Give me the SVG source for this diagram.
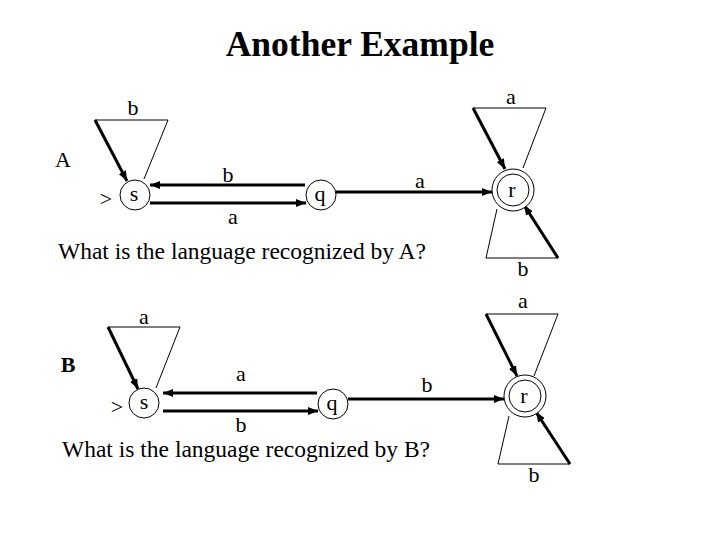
<svg xmlns="http://www.w3.org/2000/svg" width="720" height="540" viewBox="0 0 720 540">
<defs>
<marker id="ah" markerUnits="userSpaceOnUse" markerWidth="10" markerHeight="8" refX="10" refY="4" orient="auto">
<path d="M0,0 L10,4 L0,8 z" fill="#000"/>
</marker>
<style>
.t{font-family:"Liberation Serif","Times New Roman",serif;fill:#000}
.lb{font-size:22px;text-anchor:middle}
.st{font-size:22px;text-anchor:middle}
.c{fill:#fff;stroke:#000;stroke-width:1}
.thin{fill:none;stroke:#000;stroke-width:1}
.thick{fill:none;stroke:#000;stroke-width:3;marker-end:url(#ah)}
</style>
</defs>
<rect width="720" height="540" fill="#fff"/>
<text class="t" x="360" y="56" font-size="35.5" font-weight="bold" text-anchor="middle">Another Example</text>

<g id="connectors">
<!-- A -->
<polyline class="thin" points="144,179 168,120 95,120"/>
<line class="thick" x1="95" y1="120" x2="127" y2="181"/>
<line class="thick" x1="305" y1="185" x2="150" y2="185"/>
<line class="thick" x1="150" y1="203" x2="306" y2="203"/>
<line class="thick" x1="336" y1="192" x2="492" y2="192"/>
<polyline class="thin" points="523,168 546,108 473,108"/>
<line class="thick" x1="473" y1="108" x2="505" y2="169"/>
<polyline class="thin" points="497,209 486,258 558,258"/>
<line class="thick" x1="558" y1="258" x2="524" y2="205"/>
<!-- B -->
<polyline class="thin" points="156,388 180,327 108,327"/>
<line class="thick" x1="108" y1="327" x2="138" y2="389"/>
<line class="thick" x1="317" y1="393" x2="163" y2="393"/>
<line class="thick" x1="163" y1="411" x2="318" y2="411"/>
<line class="thick" x1="348" y1="399" x2="504" y2="399"/>
<polyline class="thin" points="534,376 558,314 486,314"/>
<line class="thick" x1="486" y1="314" x2="517" y2="376"/>
<polyline class="thin" points="509,416 498,464 570,464"/>
<line class="thick" x1="570" y1="464" x2="536" y2="412"/>
</g>

<g id="labels-A">
<text class="t lb" x="133" y="115">b</text>
<text class="t lb" x="63" y="167">A</text>
<text class="t lb" x="106" y="206">&gt;</text>
<text class="t lb" x="228" y="182">b</text>
<text class="t lb" x="233" y="224">a</text>
<text class="t lb" x="420" y="188">a</text>
<text class="t lb" x="511" y="104">a</text>
<text class="t lb" x="523" y="276">b</text>
<text class="t" x="58" y="259" font-size="23.5">What is the language recognized by A?</text>
</g>

<g id="labels-B">
<text class="t lb" x="144" y="324">a</text>
<text class="t lb" x="68" y="372" font-weight="bold">B</text>
<text class="t lb" x="117" y="414">&gt;</text>
<text class="t lb" x="241" y="381">a</text>
<text class="t lb" x="241" y="432">b</text>
<text class="t lb" x="427" y="392">b</text>
<text class="t lb" x="523" y="308">a</text>
<text class="t lb" x="534" y="482">b</text>
<text class="t" x="62" y="457" font-size="23.5">What is the language recognized by B?</text>
</g>

<g id="node-A-s"><circle class="c" cx="135" cy="195" r="15"/><text class="t st" x="134" y="201">s</text></g>
<g id="node-A-q"><circle class="c" cx="321" cy="195" r="15"/><text class="t st" x="320" y="201">q</text></g>
<g id="node-A-r"><circle class="c" cx="513" cy="190" r="21"/><circle class="c" cx="513" cy="190" r="16"/><text class="t st" x="512" y="197">r</text></g>
<g id="node-B-s"><circle class="c" cx="144" cy="403" r="15"/><text class="t st" x="144" y="409">s</text></g>
<g id="node-B-q"><circle class="c" cx="333" cy="404" r="15"/><text class="t st" x="332" y="410">q</text></g>
<g id="node-B-r"><circle class="c" cx="525" cy="396" r="21"/><circle class="c" cx="525" cy="396" r="16"/><text class="t st" x="524" y="403">r</text></g>
</svg>
